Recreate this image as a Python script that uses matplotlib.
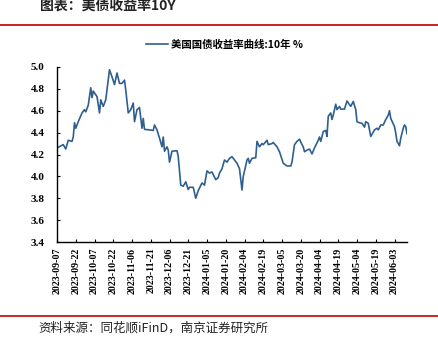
import datetime
import matplotlib
matplotlib.use('Agg')
import matplotlib.dates as mdates
from matplotlib import pyplot
from matplotlib.lines import Line2D

# Data ------------------------------------------------------------------------------
Dates = [
  '2023-09-07', '2023-09-12', '2023-09-14', '2023-09-16', '2023-09-19', '2023-09-20',
  '2023-09-21', '2023-09-22', '2023-09-24', '2023-09-27', '2023-09-29', '2023-09-30',
  '2023-10-02', '2023-10-04', '2023-10-05', '2023-10-06', '2023-10-09', '2023-10-11',
  '2023-10-12', '2023-10-14', '2023-10-16', '2023-10-19', '2023-10-21', '2023-10-23',
  '2023-10-25', '2023-10-27', '2023-10-29', '2023-10-31', '2023-11-01', '2023-11-03',
  '2023-11-05', '2023-11-07', '2023-11-08', '2023-11-10', '2023-11-12', '2023-11-14',
  '2023-11-15', '2023-11-16', '2023-11-20', '2023-11-23', '2023-11-24', '2023-11-26',
  '2023-11-28', '2023-11-30', '2023-12-01', '2023-12-02', '2023-12-04', '2023-12-05',
  '2023-12-06', '2023-12-08', '2023-12-12', '2023-12-13', '2023-12-15', '2023-12-17',
  '2023-12-19', '2023-12-21', '2023-12-22', '2023-12-25', '2023-12-27', '2023-12-29',
  '2024-01-01', '2024-01-03', '2024-01-05', '2024-01-07', '2024-01-09', '2024-01-12',
  '2024-01-14', '2024-01-15', '2024-01-17', '2024-01-19', '2024-01-21', '2024-01-23',
  '2024-01-25', '2024-01-27', '2024-01-29', '2024-01-31', '2024-02-02', '2024-02-03',
  '2024-02-06', '2024-02-07', '2024-02-08', '2024-02-10', '2024-02-13', '2024-02-14',
  '2024-02-16', '2024-02-18', '2024-02-19', '2024-02-22', '2024-02-23', '2024-02-26',
  '2024-02-27', '2024-03-01', '2024-03-03', '2024-03-06', '2024-03-09', '2024-03-12',
  '2024-03-13', '2024-03-15', '2024-03-17', '2024-03-19', '2024-03-21', '2024-03-22',
  '2024-03-23', '2024-03-25', '2024-03-27', '2024-03-29', '2024-03-31', '2024-04-03',
  '2024-04-04', '2024-04-05', '2024-04-07', '2024-04-09', '2024-04-10', '2024-04-11',
  '2024-04-13', '2024-04-14', '2024-04-15', '2024-04-17', '2024-04-18', '2024-04-20',
  '2024-04-21', '2024-04-24', '2024-04-26', '2024-04-28', '2024-04-29', '2024-05-01',
  '2024-05-03', '2024-05-04', '2024-05-06', '2024-05-08', '2024-05-10', '2024-05-11',
  '2024-05-13', '2024-05-15', '2024-05-18', '2024-05-20', '2024-05-21', '2024-05-23',
  '2024-05-25', '2024-05-27', '2024-05-29', '2024-05-30', '2024-05-31', '2024-06-03',
  '2024-06-04', '2024-06-05', '2024-06-07', '2024-06-08', '2024-06-10', '2024-06-11',
  '2024-06-12', '2024-06-13',
]
Yield10Y = [
  4.26, 4.29, 4.25, 4.33, 4.32, 4.36,
  4.49, 4.44, 4.50, 4.58, 4.61, 4.59,
  4.65, 4.81, 4.72, 4.78, 4.73, 4.58,
  4.70, 4.64, 4.70, 4.975, 4.91, 4.84,
  4.945, 4.85, 4.85, 4.88, 4.79, 4.58,
  4.61, 4.67, 4.50, 4.61, 4.63, 4.44,
  4.53, 4.43, 4.425, 4.42, 4.47, 4.425,
  4.35, 4.27, 4.36, 4.23, 4.27, 4.24,
  4.13, 4.23, 4.235, 4.18, 3.92, 3.91,
  3.95, 3.88, 3.90, 3.90, 3.80, 3.87,
  3.94, 3.92, 4.05, 4.03, 4.04, 3.97,
  3.99, 4.03, 4.07, 4.15, 4.13, 4.165,
  4.18, 4.15, 4.12, 4.07, 3.875, 4.00,
  4.15, 4.165, 4.12, 4.165, 4.17, 4.32,
  4.27, 4.30, 4.29, 4.33, 4.29, 4.30,
  4.31, 4.27, 4.225, 4.12, 4.095, 4.095,
  4.13, 4.29, 4.32, 4.34, 4.29, 4.27,
  4.225, 4.24, 4.25, 4.205, 4.26, 4.33,
  4.36, 4.32, 4.41, 4.42, 4.365, 4.55,
  4.58, 4.52, 4.56, 4.66, 4.61, 4.64,
  4.615, 4.615, 4.69, 4.655, 4.64, 4.685,
  4.61, 4.50, 4.49, 4.485, 4.45, 4.50,
  4.485, 4.365, 4.425, 4.44, 4.425, 4.47,
  4.47, 4.52, 4.56, 4.60, 4.53, 4.455,
  4.395, 4.32, 4.28, 4.35, 4.44, 4.47,
  4.455, 4.39,
]
TickStart = '2023-09-07'
TickEnd = '2024-06-03'
TickStepDays = 15
YTicks = [3.4, 3.6, 3.8, 4.0, 4.2, 4.4, 4.6, 4.8, 5.0]

Title = '图表：美债收益率10Y'
SeriesName = '美国国债收益率曲线:10年 %'
Source = '资料来源：同花顺iFinD，南京证券研究所'

LineColor = '#2F5F8F'
RedColor = '#C00000'
CJK = ['Noto Sans CJK SC', 'DejaVu Sans']
NumFont = 'Liberation Serif'


def ToDate(s):
  return datetime.datetime.strptime(s, '%Y-%m-%d')


def Run():
  dates = [ToDate(s) for s in Dates]
  fig = pyplot.figure(figsize=(4.38, 3.51), dpi=100)
  W, H = 438., 351.

  # Header / footer decoration.
  fig.text(40 / W, 1 - 6 / H, Title, family=CJK, fontsize=10, fontweight='bold',
           ha='left', va='center', color='#222222')
  fig.add_artist(Line2D([0, 1], [1 - 25 / H, 1 - 25 / H], color=RedColor, linewidth=1.2))
  fig.add_artist(Line2D([0, 1], [1 - 316 / H, 1 - 316 / H], color=RedColor, linewidth=1.2))
  fig.text(38 / W, 1 - 328 / H, Source, family=CJK, fontsize=9, ha='left', va='center',
           color='#222222')

  # Main axes.
  ax = fig.add_axes([57 / W, 1 - 242 / H, (407 - 57) / W, (242 - 67) / H])
  ax.plot(dates, Yield10Y, '-', color=LineColor, linewidth=1.2, label=SeriesName)
  ax.set_xlim(dates[0], dates[-1])
  ax.set_ylim(YTicks[0], YTicks[-1])

  ticks = []
  t = ToDate(TickStart)
  while t <= ToDate(TickEnd):
    ticks.append(t)
    t += datetime.timedelta(days=TickStepDays)
  ax.set_xticks(ticks)
  ax.xaxis.set_major_formatter(mdates.DateFormatter('%Y-%m-%d'))
  ax.set_yticks(YTicks)
  ax.set_yticklabels(['{:.1f}'.format(v) for v in YTicks])

  for spine in ('top', 'right'):
    ax.spines[spine].set_visible(False)
  for spine in ('left', 'bottom'):
    ax.spines[spine].set_linewidth(1.0)
    ax.spines[spine].set_color('black')
  ax.tick_params(axis='both', direction='in', length=2.5, width=0.8)
  ax.tick_params(axis='y', pad=9)
  ax.tick_params(axis='x', pad=4)
  for lab in ax.get_xticklabels():
    lab.set_rotation(90)
    lab.set_fontfamily(NumFont)
    lab.set_fontweight('bold')
    lab.set_fontsize(7.2)
  for lab in ax.get_yticklabels():
    lab.set_fontfamily(NumFont)
    lab.set_fontweight('bold')
    lab.set_fontsize(8)

  leg = ax.legend(loc='lower left', bbox_to_anchor=(146 / W, 1 - 50 / H),
                  bbox_transform=fig.transFigure, frameon=False, handlelength=2.1,
                  handletextpad=0.3, borderpad=0, borderaxespad=0,
                  prop={'family': CJK, 'weight': 'bold', 'size': 7.5})

  fig.savefig('out.png', dpi=100)


if __name__ == '__main__':
  Run()
